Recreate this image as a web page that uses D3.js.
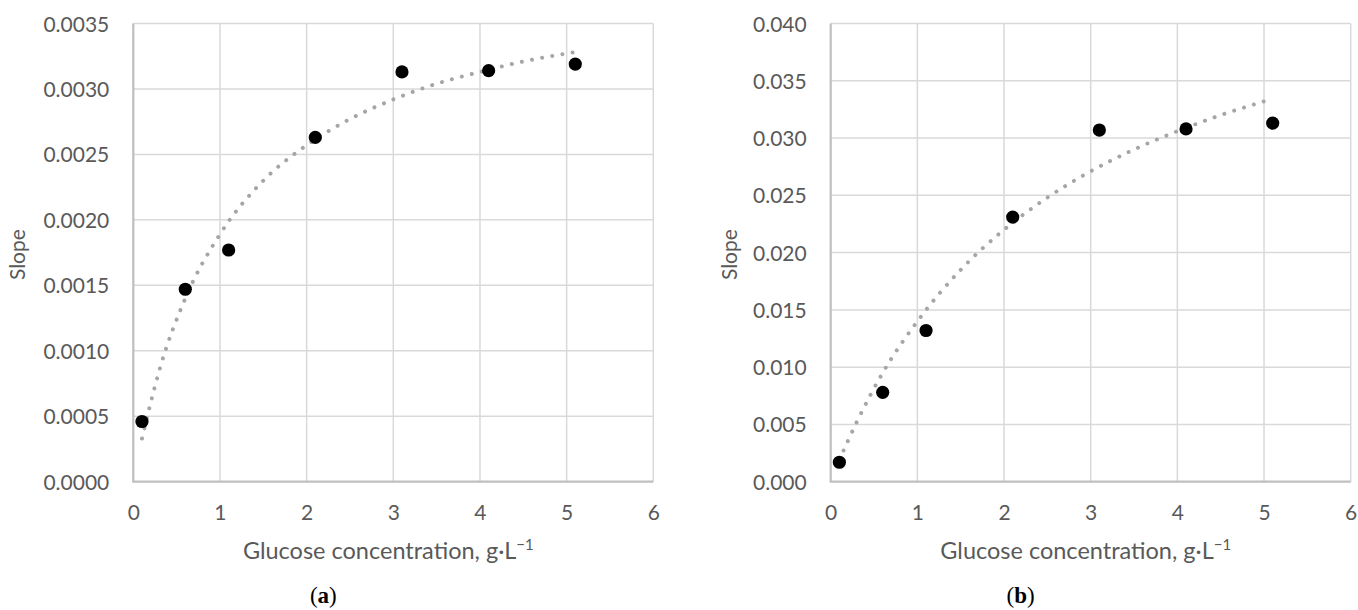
<!DOCTYPE html>
<html>
<head>
<meta charset="utf-8">
<script src="https://cdn.jsdelivr.net/npm/d3@7"></script>
<style>
    body { margin: 0; background: #fff; }
    .tick text { font-family: Lato, "Open Sans", sans-serif; font-size: 21px; fill: #595959; }
    .axisTitle { font-family: Lato, "Open Sans", sans-serif; font-size: 21px; fill: #595959; }
    .axisTitle--x { font-size: 23.5px; }
    .panelLabel { font-family: "Liberation Serif", serif; font-size: 23px; fill: #000; }
</style>
</head>
<body>
<div id="chart"></div>
<script>
// ----- DATA -----------------------------------------------------------
const glucose = [0.1, 0.6, 1.1, 2.1, 3.1, 4.1, 5.1];

const slopeA = [0.00046, 0.00147, 0.00177, 0.00263, 0.00313, 0.00314, 0.00319];
const slopeB = [0.0017, 0.0078, 0.0132, 0.0231, 0.0307, 0.0308, 0.0313];

// trendline
const trendXA = [0.1, 0.3, 0.6, 1.0, 1.5, 2.0, 2.5, 3.0, 3.5, 4.0, 4.5, 5.08];
const trendA  = [0.00033, 0.00085, 0.00140, 0.00189, 0.00230, 0.00257, 0.00277, 0.00292, 0.00304, 0.00313, 0.00321, 0.00328];
const trendXB = [0.1, 0.3, 0.6, 1.0, 1.5, 2.0, 2.5, 3.0, 3.5, 4.0, 4.5, 5.0];
const trendB  = [0.0019, 0.0052, 0.0095, 0.0140, 0.0185, 0.0220, 0.0248, 0.0271, 0.0290, 0.0306, 0.0320, 0.0332];

const xTicks  = [0, 1, 2, 3, 4, 5, 6];
const yTicksA = [0, 0.0005, 0.0010, 0.0015, 0.0020, 0.0025, 0.0030, 0.0035];
const yTicksB = [0, 0.005, 0.010, 0.015, 0.020, 0.025, 0.030, 0.035, 0.040];

const WIDTH = 1358;
const HEIGHT = 610;

const svg = d3.select("#chart").append("svg")
    .attr("width", WIDTH)
    .attr("height", HEIGHT);

// ----- PRIVATE FUNCTIONS ----------------------------------------------
function _drawPanel( opts )
{
    const left = opts.left, top = 23.5, innerWidth = 520, innerHeight = 458.2;

    let x = d3.scaleLinear().domain([0, 6]).range([0, innerWidth]);
    let y = d3.scaleLinear().domain([0, d3.max(opts.yTicks)]).range([innerHeight, 0]);

    let g = svg.append("g")
        .attr("transform", "translate(" + left + "," + top + ")");

    // gridlines
    g.append("g").selectAll("line")
        .data(opts.yTicks.slice(1))
        .enter().append("line")
        .attr("x1", 0).attr("x2", innerWidth)
        .attr("y1", d => y(d)).attr("y2", d => y(d))
        .attr("stroke", "#d9d9d9").attr("stroke-width", 1.5);

    g.append("g").selectAll("line")
        .data(xTicks.slice(1))
        .enter().append("line")
        .attr("x1", d => x(d)).attr("x2", d => x(d))
        .attr("y1", 0).attr("y2", innerHeight)
        .attr("stroke", "#d9d9d9").attr("stroke-width", 1.5);

    // axes
    let yAxis = d3.axisLeft(y).tickValues(opts.yTicks).tickFormat(d3.format(opts.fmt))
        .tickSize(0).tickPadding(24);
    let xAxis = d3.axisBottom(x).tickValues(xTicks).tickFormat(d3.format("d"))
        .tickSize(0);

    let yg = g.append("g").call(yAxis);
    yg.select(".domain").remove();
    yg.selectAll("text").attr("dy", "0.36em");

    let xg = g.append("g").attr("transform", "translate(0," + innerHeight + ")").call(xAxis);
    xg.select(".domain").remove();
    xg.selectAll("text").attr("y", 38).attr("dy", 0);

    g.append("line")
        .attr("x1", 0).attr("x2", 0).attr("y1", 0).attr("y2", innerHeight)
        .attr("stroke", "#bfbfbf").attr("stroke-width", 2.2);
    g.append("line")
        .attr("x1", -1).attr("x2", innerWidth).attr("y1", innerHeight).attr("y2", innerHeight)
        .attr("stroke", "#bfbfbf").attr("stroke-width", 2.2);

    // dotted trendline
    let line = d3.line()
        .x(d => x(d[0]))
        .y(d => y(d[1]))
        .curve(d3.curveMonotoneX);

    g.append("path")
        .datum(d3.zip(opts.trendX, opts.trend))
        .attr("d", line)
        .attr("fill", "none")
        .attr("stroke", "#a6a6a6")
        .attr("stroke-width", 4)
        .attr("stroke-linecap", "round")
        .attr("stroke-dasharray", "0.01 10.3");

    // data points
    g.append("g").selectAll("circle")
        .data(d3.zip(glucose, opts.values))
        .enter().append("circle")
        .attr("cx", d => x(d[0]))
        .attr("cy", d => y(d[1]))
        .attr("r", 6.6)
        .attr("fill", "#000");

    // axis titles
    g.append("text")
        .classed("axisTitle", true)
        .attr("transform", "translate(" + opts.slopeX + "," + (innerHeight / 2 + 2) + ") rotate(-90)")
        .attr("text-anchor", "middle")
        .text("Slope");

    let xt = g.append("text")
        .classed("axisTitle axisTitle--x", true)
        .attr("x", innerWidth / 2 - 5)
        .attr("y", 559 - top)
        .attr("text-anchor", "middle");
    xt.append("tspan").text("Glucose concentration, g\u00b7L");
    xt.append("tspan").text("\u22121")
        .attr("font-size", 15)
        .attr("dy", -9);

    let lab = g.append("text")
        .classed("panelLabel", true)
        .attr("x", 190)
        .attr("y", 603 - top)
        .attr("text-anchor", "middle");
    lab.append("tspan").text("(");
    lab.append("tspan").text(opts.label).attr("font-weight", "bold");
    lab.append("tspan").text(")");
}

_drawPanel({ left: 133.3, slopeX: -108, yTicks: yTicksA, fmt: ".4f", values: slopeA, trendX: trendXA, trend: trendA, label: "a" });
_drawPanel({ left: 830.7, slopeX: -94, yTicks: yTicksB, fmt: ".3f", values: slopeB, trendX: trendXB, trend: trendB, label: "b" });
</script>
</body>
</html>
